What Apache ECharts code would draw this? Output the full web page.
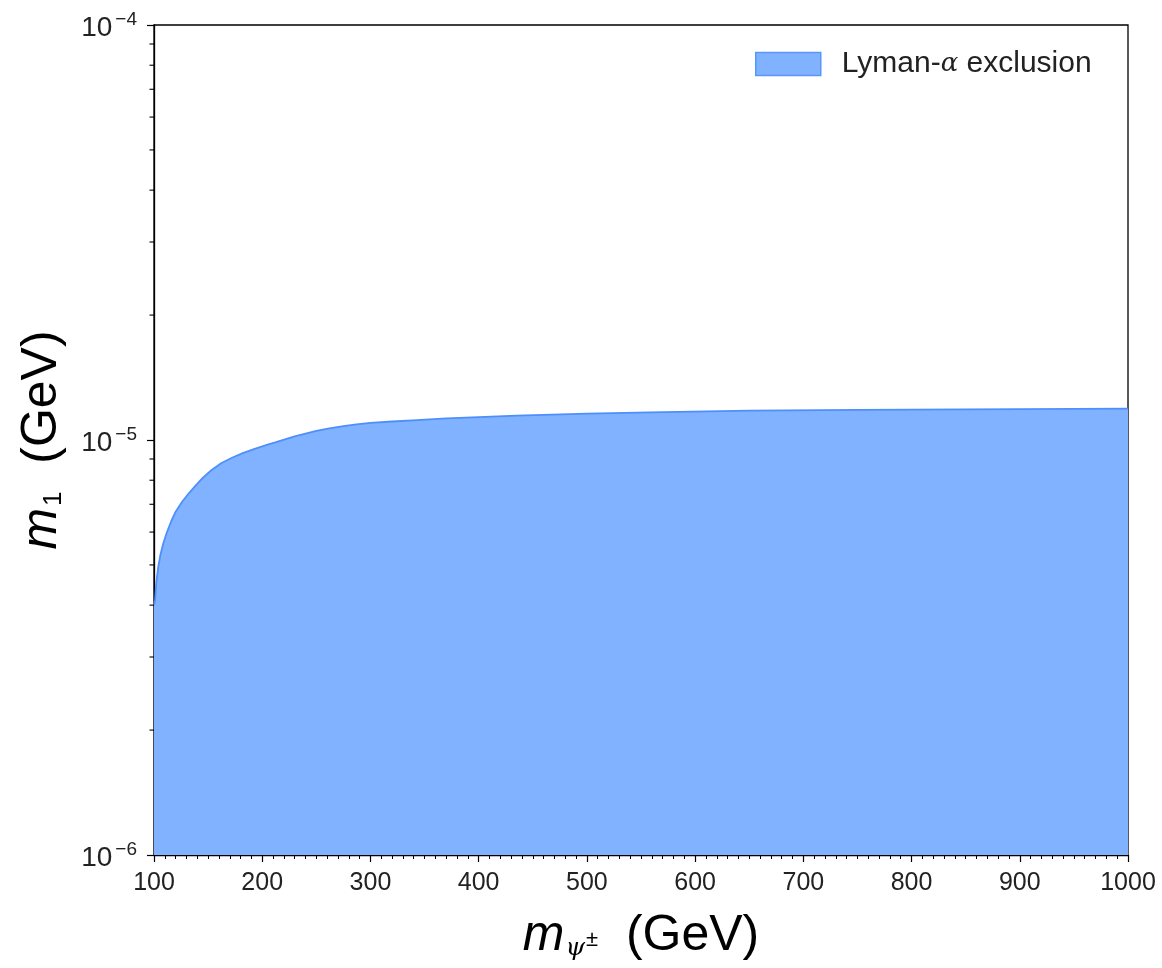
<!DOCTYPE html>
<html>
<head>
<meta charset="utf-8">
<script src="https://cdn.jsdelivr.net/npm/echarts@6/dist/echarts.min.js"></script>
<style>
html,body{margin:0;padding:0;background:#fff;}
#chart{width:1162px;height:968px;}
</style>
</head>
<body>
<div id="chart"></div>
<script>
// m_psi± (GeV)
var mPsi = [100, 101, 102, 104, 106, 108.6, 112, 116, 120, 126, 132, 138, 145, 153, 162, 172, 182, 193, 205, 212, 230, 250, 262, 275, 287, 300, 320, 343, 370, 400, 435, 500, 558, 650, 750, 850, 1000];
// Lyman-alpha exclusion boundary m1 (GeV)
var m1Limit = [4.0e-6, 4.11e-6, 4.5e-6, 4.96e-6, 5.3e-6, 5.64e-6, 6.0e-6, 6.38e-6, 6.72e-6, 7.1e-6, 7.43e-6, 7.74e-6, 8.1e-6, 8.46e-6, 8.79e-6, 9.06e-6, 9.3e-6, 9.52e-6, 9.75e-6, 9.87e-6, 1.02e-5, 1.052e-5, 1.067e-5, 1.08e-5, 1.09e-5, 1.10e-5, 1.108e-5, 1.117e-5, 1.127e-5, 1.135e-5, 1.145e-5, 1.157e-5, 1.166e-5, 1.177e-5, 1.182e-5, 1.185e-5, 1.19e-5];
var xTicks = [100, 200, 300, 400, 500, 600, 700, 800, 900, 1000];
var yTickExponents = [-6, -5, -4];
var yMinorTicks = [2e-6, 3e-6, 4e-6, 5e-6, 6e-6, 7e-6, 8e-6, 9e-6, 2e-5, 3e-5, 4e-5, 5e-5, 6e-5, 7e-5, 8e-5, 9e-5];
var seriesName = 'Lyman-α exclusion';

var FONT = '"Liberation Sans", Arial, Helvetica, sans-serif';
var SERIF = '"DejaVu Serif", "Liberation Serif", serif';
var chart = echarts.init(document.getElementById('chart'), null, {renderer: 'canvas'});

var boundary = mPsi.map(function (x, i) { return [x, m1Limit[i]]; });
var minorData = yMinorTicks.map(function (v) { return [xTicks[0], v]; });

chart.setOption({
  animation: false,
  backgroundColor: '#fff',
  grid: {
    left: 154, right: 34, top: 25, bottom: 113,
    show: true, borderColor: '#000', borderWidth: 1.3, backgroundColor: 'transparent'
  },
  legend: {
    data: [{name: seriesName, icon: 'rect', itemStyle: {color: '#80b2ff', borderColor: '#5796ff', borderWidth: 1.5}}],
    left: 750, top: 44,
    itemWidth: 65, itemHeight: 23,
    textStyle: {fontFamily: FONT, fontSize: 30, color: '#222', padding: [0, 0, 0, 16],
      rich: {
        t: {fontFamily: FONT, fontSize: 30, color: '#222'},
        a: {fontFamily: SERIF, fontStyle: 'italic', fontSize: 26, color: '#222'}
      }},
    formatter: function () { return '{t|Lyman-}{a|α}{t| exclusion}'; },
    selectedMode: false
  },
  xAxis: {
    type: 'value', min: 100, max: 1000, interval: 100,
    axisLine: {show: true, onZero: false, lineStyle: {color: '#000', width: 1.3}},
    axisTick: {show: true, length: 7, lineStyle: {color: '#000', width: 1.2}},
    minorTick: {show: true, splitNumber: 10, length: 4, lineStyle: {color: '#000', width: 1}},
    splitLine: {show: false},
    axisLabel: {fontFamily: FONT, fontSize: 25, color: '#222', margin: 16,
      formatter: function (v) { return xTicks.indexOf(v) >= 0 ? String(v) : ''; }},
    name: '{m|m}{s|ψ}{p|±}{g|  (GeV)}',
    nameLocation: 'middle', nameGap: 56,
    nameTextStyle: {
      rich: {
        m: {fontFamily: FONT, fontStyle: 'italic', fontSize: 50, color: '#000', verticalAlign: 'bottom'},
        s: {fontFamily: SERIF, fontStyle: 'italic', fontSize: 25, color: '#000', padding: [16, 0, 0, 1], verticalAlign: 'bottom'},
        p: {fontFamily: FONT, fontSize: 22, color: '#000', padding: [0, 0, 10, 1], verticalAlign: 'bottom'},
        g: {fontFamily: FONT, fontSize: 50, color: '#000', verticalAlign: 'bottom'}
      }
    }
  },
  yAxis: {
    type: 'log', logBase: 10, min: 1e-6, max: 1e-4,
    axisLine: {show: true, onZero: false, lineStyle: {color: '#000', width: 1.3}},
    axisTick: {show: true, length: 7, lineStyle: {color: '#000', width: 1.2}},
    splitLine: {show: false},
    axisLabel: {
      margin: 17,
      formatter: function (v) {
        var e = Math.round(Math.log10(v));
        if (yTickExponents.indexOf(e) < 0) return '';
        return '{b|10}{s|−' + Math.abs(e) + '}';
      },
      rich: {
        b: {fontFamily: FONT, fontSize: 28, color: '#222', padding: [6, 0, 0, 0]},
        s: {fontFamily: FONT, fontSize: 19, color: '#222', padding: [0, 0, 10, 3]}
      }
    },
    name: '{m|m}{s|1}{g|  (GeV)}',
    nameLocation: 'middle', nameGap: 87, nameRotate: 90,
    nameTextStyle: {
      rich: {
        m: {fontFamily: FONT, fontStyle: 'italic', fontSize: 50, color: '#000', verticalAlign: 'bottom'},
        s: {fontFamily: FONT, fontSize: 26, color: '#000', padding: [14, 0, 0, 2], verticalAlign: 'bottom'},
        g: {fontFamily: FONT, fontSize: 50, color: '#000', verticalAlign: 'bottom'}
      }
    }
  },
  series: [
    {
      name: seriesName,
      type: 'line',
      data: boundary,
      showSymbol: false,
      smooth: false,
      lineStyle: {color: '#4f8ffc', width: 1.8},
      itemStyle: {color: '#80b2ff'},
      areaStyle: {color: '#80b2ff', opacity: 1, origin: 'start'},
      z: 1
    },
    {
      name: 'yMinor',
      type: 'custom',
      data: minorData,
      encode: {x: 0, y: 1},
      silent: true,
      clip: false,
      z: 5,
      renderItem: function (params, api) {
        var p = api.coord([api.value(0), api.value(1)]);
        return {
          type: 'line',
          shape: {x1: p[0] - 4.5, y1: p[1], x2: p[0], y2: p[1]},
          style: {stroke: '#000', lineWidth: 1.1}
        };
      }
    }
  ]
});
</script>
</body>
</html>
